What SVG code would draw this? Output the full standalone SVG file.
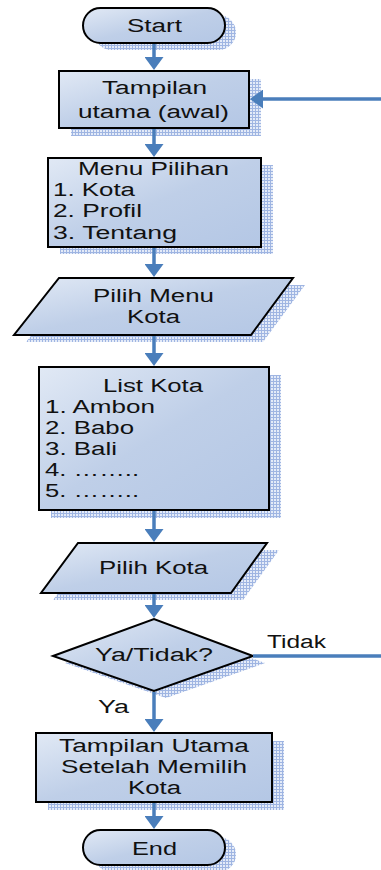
<svg xmlns="http://www.w3.org/2000/svg" width="381" height="870" viewBox="0 0 381 870">
<style>
.sh{fill:url(#grid)}
.nd{fill:url(#grad);stroke:#000;stroke-width:2}
.t{font-family:"Liberation Sans",Arial,sans-serif;font-size:18px;fill:#111}
.c{text-anchor:middle}
.cn{stroke:#4a7ebb;stroke-width:3.5;fill:none}
</style>
<defs>
<linearGradient id="grad" x1="0" y1="0" x2="1" y2="1">
<stop offset="0" stop-color="#e1e9f5"/>
<stop offset="0.5" stop-color="#bfcfe8"/>
<stop offset="1" stop-color="#b4c7e5"/>
</linearGradient>
<pattern id="grid" width="3" height="3" patternUnits="userSpaceOnUse">
<rect width="3" height="3" fill="#e4ebf8"/>
<rect width="3" height="1" fill="#9fb5e2"/>
<rect width="1" height="3" fill="#9fb5e2"/>
</pattern>
<marker id="ah" markerUnits="userSpaceOnUse" markerWidth="13" markerHeight="19" viewBox="0 0 13 19" refX="3" refY="9.5" orient="auto">
<path d="M0,0 L13,9.5 L0,19 Z" fill="#4a7ebb"/>
</marker>
</defs>

<g id="start">
<rect class="sh" x="94" y="15" width="142" height="35" rx="17.5"/>
<rect class="nd" x="83" y="8" width="142" height="35" rx="17.5"/>
<text class="t c" x="154.5" y="32" textLength="55" lengthAdjust="spacingAndGlyphs">Start</text>
</g>

<g id="tampilan-awal">
<rect class="sh" x="71" y="79" width="190" height="57"/>
<rect class="nd" x="59" y="71" width="190" height="57"/>
<text class="t c" x="154.5" y="94" textLength="105" lengthAdjust="spacingAndGlyphs">Tampilan</text>
<text class="t c" x="153.5" y="118" textLength="151" lengthAdjust="spacingAndGlyphs">utama (awal)</text>
</g>

<g id="menu-pilihan">
<rect class="sh" x="60" y="165" width="213" height="89"/>
<rect class="nd" x="48" y="158" width="213" height="89"/>
<text class="t c" x="153.5" y="175" textLength="151" lengthAdjust="spacingAndGlyphs">Menu Pilihan</text>
<text class="t" x="53" y="196" textLength="82" lengthAdjust="spacingAndGlyphs">1. Kota</text>
<text class="t" x="53" y="217" textLength="89" lengthAdjust="spacingAndGlyphs">2. Profil</text>
<text class="t" x="53" y="239" textLength="124" lengthAdjust="spacingAndGlyphs">3. Tentang</text>
</g>

<g id="pilih-menu-kota">
<polygon class="sh" points="71,285 305,285 263,342 26,342"/>
<polygon class="nd" points="59,278 293,278 251,335 14,335"/>
<text class="t c" x="153.5" y="302" textLength="121" lengthAdjust="spacingAndGlyphs">Pilih Menu</text>
<text class="t c" x="153.5" y="323" textLength="53" lengthAdjust="spacingAndGlyphs">Kota</text>
</g>

<g id="list-kota">
<rect class="sh" x="51" y="375" width="230" height="143"/>
<rect class="nd" x="39" y="367" width="230" height="143"/>
<text class="t c" x="153" y="392" textLength="100" lengthAdjust="spacingAndGlyphs">List Kota</text>
<text class="t" x="45" y="413" textLength="110" lengthAdjust="spacingAndGlyphs">1. Ambon</text>
<text class="t" x="45" y="434" textLength="89" lengthAdjust="spacingAndGlyphs">2. Babo</text>
<text class="t" x="45" y="455" textLength="72" lengthAdjust="spacingAndGlyphs">3. Bali</text>
<text class="t" x="45" y="476" textLength="94" lengthAdjust="spacingAndGlyphs">4. ……..</text>
<text class="t" x="45" y="497" textLength="94" lengthAdjust="spacingAndGlyphs">5. ……..</text>
</g>

<g id="pilih-kota">
<polygon class="sh" points="90,550 279,550 243,600 53,600"/>
<polygon class="nd" points="78,543 267,543 231,593 41,593"/>
<text class="t c" x="153.5" y="574" textLength="109" lengthAdjust="spacingAndGlyphs">Pilih Kota</text>
</g>

<g id="decision">
<polygon class="sh" points="65,663 166,626 265,663 166,698"/>
<polygon class="nd" points="53,656 154,619 253,656 154,691"/>
<text class="t c" x="154" y="661" textLength="118" lengthAdjust="spacingAndGlyphs">Ya/Tidak?</text>
</g>

<g id="tampilan-utama">
<rect class="sh" x="48" y="741" width="236" height="69"/>
<rect class="nd" x="36" y="733" width="236" height="69"/>
<text class="t c" x="154" y="752" textLength="190" lengthAdjust="spacingAndGlyphs">Tampilan Utama</text>
<text class="t c" x="154" y="773" textLength="186" lengthAdjust="spacingAndGlyphs">Setelah Memilih</text>
<text class="t c" x="154.5" y="794" textLength="53" lengthAdjust="spacingAndGlyphs">Kota</text>
</g>

<g id="end">
<rect class="sh" x="94" y="837" width="142" height="35" rx="17.5"/>
<rect class="nd" x="83" y="830" width="142" height="35" rx="17.5"/>
<text class="t c" x="154.5" y="855" textLength="45" lengthAdjust="spacingAndGlyphs">End</text>
</g>

<g id="connectors">
<line class="cn" x1="154" y1="44" x2="154" y2="60" marker-end="url(#ah)"/>
<line class="cn" x1="154" y1="129" x2="154" y2="147" marker-end="url(#ah)"/>
<line class="cn" x1="154" y1="248" x2="154" y2="267" marker-end="url(#ah)"/>
<line class="cn" x1="154" y1="336" x2="154" y2="356" marker-end="url(#ah)"/>
<line class="cn" x1="154" y1="511" x2="154" y2="532" marker-end="url(#ah)"/>
<line class="cn" x1="154" y1="594" x2="154" y2="608" marker-end="url(#ah)"/>
<line class="cn" x1="154" y1="692" x2="154" y2="722" marker-end="url(#ah)"/>
<line class="cn" x1="154" y1="803" x2="154" y2="819" marker-end="url(#ah)"/>
<line class="cn" x1="381" y1="99" x2="260" y2="99" marker-end="url(#ah)"/>
<line class="cn" x1="253" y1="656" x2="381" y2="656"/>
<text class="t" x="267" y="648" textLength="59" lengthAdjust="spacingAndGlyphs">Tidak</text>
<text class="t" x="98" y="713" textLength="31" lengthAdjust="spacingAndGlyphs">Ya</text>
</g>
</svg>
